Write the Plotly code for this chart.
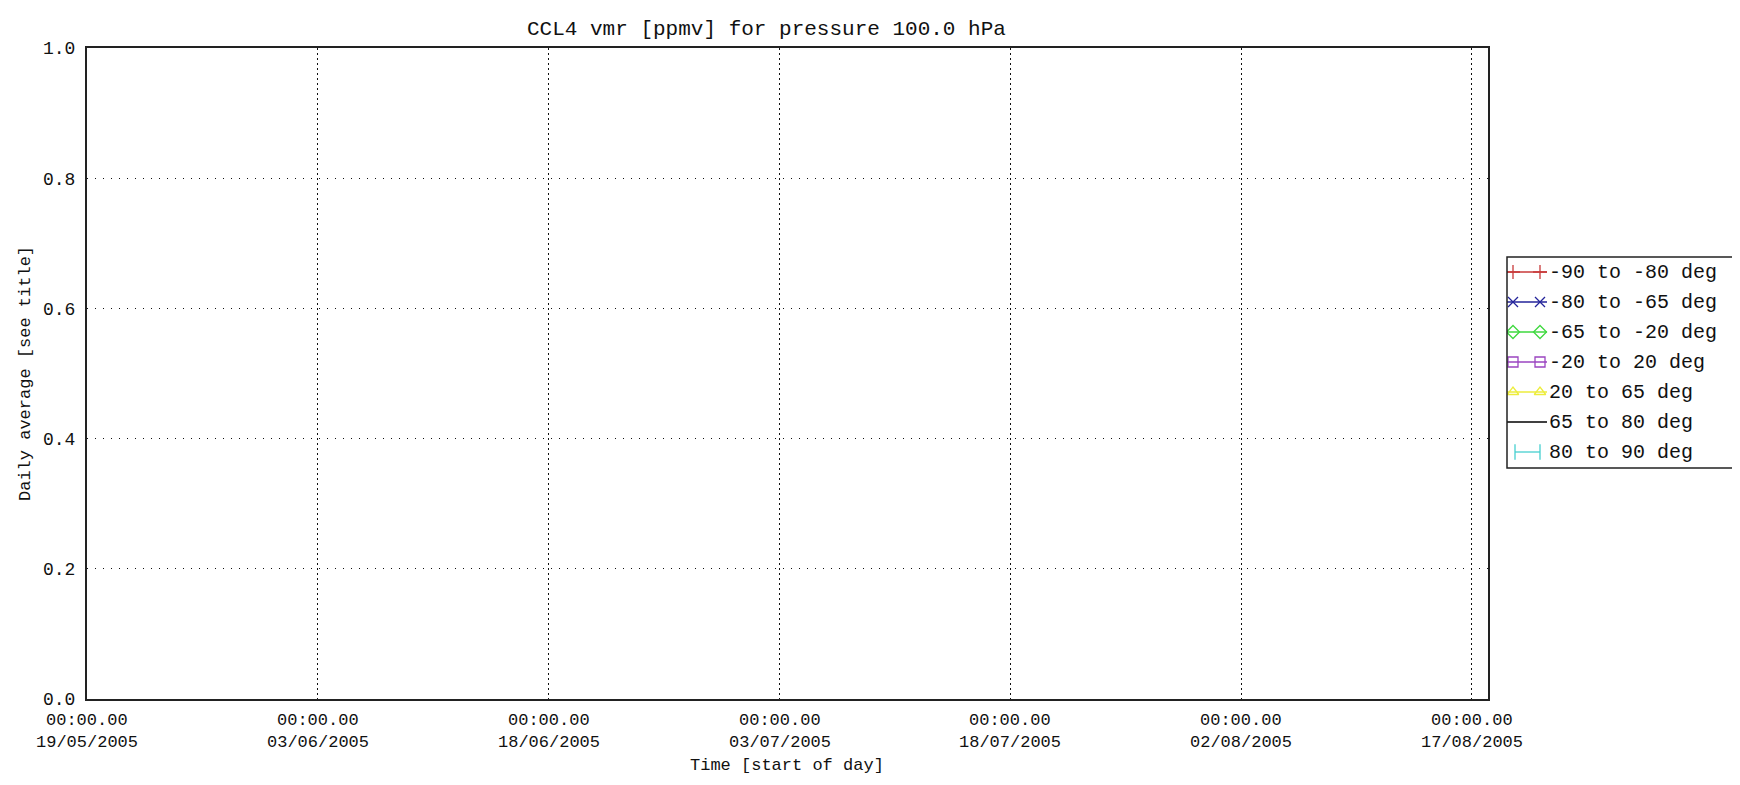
import plotly.graph_objects as go
from datetime import datetime

# ---------------- data ----------------
title_text = "CCL4 vmr [ppmv] for pressure 100.0 hPa"
x_title = "Time [start of day]"
y_title = "Daily average [see title]"

series_names = ["-90 to -80 deg", "-80 to -65 deg", "-65 to -20 deg", "-20 to 20 deg",
                "20 to 65 deg", "65 to 80 deg", "80 to 90 deg"]
# no data available for this pressure level: every series is empty
series_x = [[], [], [], [], [], [], []]
series_y = [[], [], [], [], [], [], []]

tick_dates = ["2005-05-19", "2005-06-03", "2005-06-18", "2005-07-03",
              "2005-07-18", "2005-08-02", "2005-08-17"]
y_ticks = [0.0, 0.2, 0.4, 0.6, 0.8, 1.0]
x_range = ["2005-05-19 00:00", "2005-08-18 00:58"]
y_range = [0.0, 1.0]

# ---------------- styles ----------------
series_colors = ["#c83a3a", "#23239a", "#3ed83e", "#9a44c0", "#eded3c", "#000000", "#46cfcf"]
series_symbols = ["cross-thin-open", "x-thin-open", "diamond-open", "square-open",
                  "triangle-up-open", None, "line-ns-open"]
FONT = "Liberation Mono"
TXT = "#111111"

# page body has an 8px margin: figure is placed at (8, 8) in the window
OFF = 8
W, H = 1740 - OFF, 785 - OFF
REF_L, REF_R, REF_T, REF_B = 87, 1488, 48, 699   # plot frame in window pixels
ML, MR, MT = REF_L - OFF, 0, REF_T - OFF
MB = H - (REF_B - OFF)
PW = W - ML - MR
PH = H - MT - MB


def px(xw):
    """window x pixel -> paper fraction"""
    return (xw - REF_L) / PW


def py(yw):
    """window y pixel -> paper fraction"""
    return (REF_B - yw) / PH


fig = go.Figure()

# main (empty) series
for name, xs, ys, col in zip(series_names, series_x, series_y, series_colors):
    fig.add_trace(go.Scatter(x=xs, y=ys, mode="lines+markers", name=name,
                             line=dict(color=col, width=1), showlegend=False,
                             xaxis="x", yaxis="y"))

# ---------------- custom legend (IDL style) ----------------
LEG_L, LEG_R, LEG_T, LEG_B = 1507, 1738, 257, 468
leg_w, leg_h = LEG_R - LEG_L, LEG_B - LEG_T
for i, (name, col, sym) in enumerate(zip(series_names, series_colors, series_symbols)):
    yc = 15 + 30 * i
    if sym is None:
        fig.add_trace(go.Scatter(x=[0, 40], y=[yc, yc], mode="lines",
                                 line=dict(color=col, width=1.3), showlegend=False,
                                 hoverinfo="skip", xaxis="x2", yaxis="y2"))
    elif sym == "line-ns-open":
        fig.add_trace(go.Scatter(x=[8, 33], y=[yc, yc], mode="lines+markers",
                                 line=dict(color=col, width=1.3),
                                 marker=dict(symbol=sym, size=11, color=col,
                                             line=dict(color=col, width=1.3)),
                                 showlegend=False, hoverinfo="skip", xaxis="x2", yaxis="y2"))
    else:
        fig.add_trace(go.Scatter(x=[0, 40], y=[yc, yc], mode="lines",
                                 line=dict(color=col, width=1.3), showlegend=False,
                                 hoverinfo="skip", xaxis="x2", yaxis="y2"))
        fig.add_trace(go.Scatter(x=[6, 33], y=[yc, yc], mode="markers",
                                 marker=dict(symbol=sym, size=10, color=col,
                                             line=dict(color=col, width=1.3)),
                                 showlegend=False, hoverinfo="skip", xaxis="x2", yaxis="y2"))
    fig.add_annotation(x=41, y=yc, xref="x2", yref="y2", text=name, showarrow=False,
                       xanchor="left", yanchor="middle", borderpad=0,
                       font=dict(family=FONT, size=20, color=TXT))

fig.add_shape(type="rect", xref="x2 domain", yref="y2 domain", x0=0, x1=1, y0=0, y1=1,
              line=dict(color="#222222", width=1.5), fillcolor="rgba(0,0,0,0)")

# ---------------- axis tick labels (two-line, IDL style) ----------------
for d in tick_dates:
    dt = datetime.strptime(d, "%Y-%m-%d")
    fig.add_annotation(x=d, y=py(720), xref="x", yref="paper", text=dt.strftime("%H:%M.00"),
                       showarrow=False, xanchor="center", yanchor="middle", borderpad=0,
                       font=dict(family=FONT, size=17, color=TXT))
    fig.add_annotation(x=d, y=py(742), xref="x", yref="paper", text=dt.strftime("%d/%m/%Y"),
                       showarrow=False, xanchor="center", yanchor="middle", borderpad=0,
                       font=dict(family=FONT, size=17, color=TXT))

# titles
fig.add_annotation(x=px(766), y=py(29), xref="paper", yref="paper", text=title_text,
                   showarrow=False, xanchor="center", yanchor="middle",
                   font=dict(family=FONT, size=21, color=TXT))
fig.add_annotation(x=px(787), y=py(765), xref="paper", yref="paper", text=x_title,
                   showarrow=False, xanchor="center", yanchor="middle",
                   font=dict(family=FONT, size=17, color=TXT))
fig.add_annotation(x=px(25), y=py(374), xref="paper", yref="paper", text=y_title,
                   showarrow=False, xanchor="center", yanchor="middle", textangle=-90,
                   font=dict(family=FONT, size=17, color=TXT))

fig.update_layout(
    width=W, height=H,
    margin=dict(l=ML, r=MR, t=MT, b=MB, pad=0),
    paper_bgcolor="white", plot_bgcolor="white",
    showlegend=False,
    xaxis=dict(type="date", range=x_range, domain=[0, px(REF_R)],
               tickvals=tick_dates, showticklabels=False, ticks="",
               showgrid=True, gridcolor="#111111", gridwidth=1, griddash="2px,3px",
               showline=True, mirror=True, linecolor="#222222", linewidth=2,
               zeroline=False, fixedrange=True),
    yaxis=dict(range=y_range, tickvals=y_ticks, tickformat=".1f", ticks="",
               ticklabelstandoff=6,
               tickfont=dict(family=FONT, size=18, color=TXT),
               showgrid=True, gridcolor="#111111", gridwidth=1, griddash="1px,7px",
               showline=True, mirror=True, linecolor="#222222", linewidth=2,
               zeroline=False, fixedrange=True),
    xaxis2=dict(domain=[px(LEG_L), px(LEG_R)], range=[0, leg_w], visible=False,
                anchor="y2", fixedrange=True),
    yaxis2=dict(domain=[py(LEG_B), py(LEG_T)], range=[leg_h, 0], visible=False,
                anchor="x2", fixedrange=True),
)

fig.write_html("out.html")
